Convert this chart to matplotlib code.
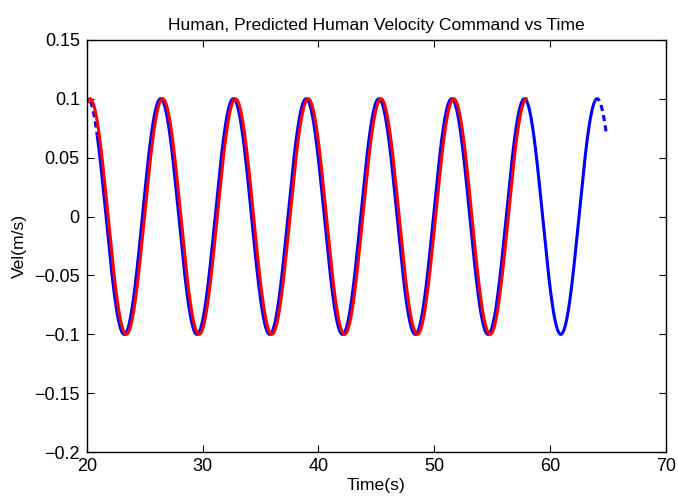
import numpy as np
import matplotlib.pyplot as plt
from matplotlib.ticker import FuncFormatter

plt.rcParams['font.family'] = ['Liberation Sans', 'DejaVu Sans']

# Velocity command: v(t) = amp * sin(omega * t + phase)
amp = 0.1              # m/s
omega = 1.0            # rad/s
human_phase = 0.15     # rad
pred_phase = 0.33      # rad

# time spans of each trace (s)
human_span = [20.0, 57.95]
pred_span = [20.3, 64.87]
pred_solid_span = [20.9, 63.9]   # where the dashed trace renders as a solid stroke

x_ticks = [20, 30, 40, 50, 60, 70]
y_ticks = [-0.2, -0.15, -0.1, -0.05, 0, 0.05, 0.1, 0.15]

dt = 0.01


def vel(t0, t1, phase):
    t = np.arange(t0, t1 + dt / 2, dt)
    return t, amp * np.sin(omega * t + phase)


fig = plt.figure(figsize=(6.78, 4.98), dpi=100)
ax = fig.add_axes([0.128, 0.092, 0.854, 0.828])

# predicted (blue, dashed)
t, v = vel(pred_span[0], pred_solid_span[0], pred_phase)
ax.plot(t, v, color='#0000ff', lw=2.2, ls=(0, (2.0, 1.4)))
t, v = vel(pred_solid_span[0], pred_solid_span[1], pred_phase)
ax.plot(t, v, color='#0000ff', lw=2.2, solid_capstyle='butt')
t, v = vel(pred_solid_span[1], pred_span[1], pred_phase)
ax.plot(t, v, color='#0000ff', lw=2.2, ls=(0, (2.0, 1.4)))

# human (red, solid) on top
t, v = vel(human_span[0], human_span[1], human_phase)
ax.plot(t, v, color='#ff0000', lw=2.2)

ax.set_xlim(20, 70)
ax.set_ylim(-0.2, 0.15)
ax.set_xticks(x_ticks)
ax.set_yticks(y_ticks)
ax.yaxis.set_major_formatter(FuncFormatter(lambda y, p: ('%g' % y).replace('-', '\u2212')))
ax.tick_params(direction='in', top=True, right=True, length=5, width=0.8,
               labelsize=13, pad=5)
ax.tick_params(axis='x', pad=4)
for s in ax.spines.values():
    s.set_linewidth(1.0)

ax.set_title('Human, Predicted Human Velocity Command vs Time', fontsize=12.6, pad=7)
ax.set_xlabel('Time(s)', fontsize=12.6, labelpad=2)
ax.set_ylabel('Vel(m/s)', fontsize=12.6, labelpad=5)

fig.savefig('out.png', dpi=100)
